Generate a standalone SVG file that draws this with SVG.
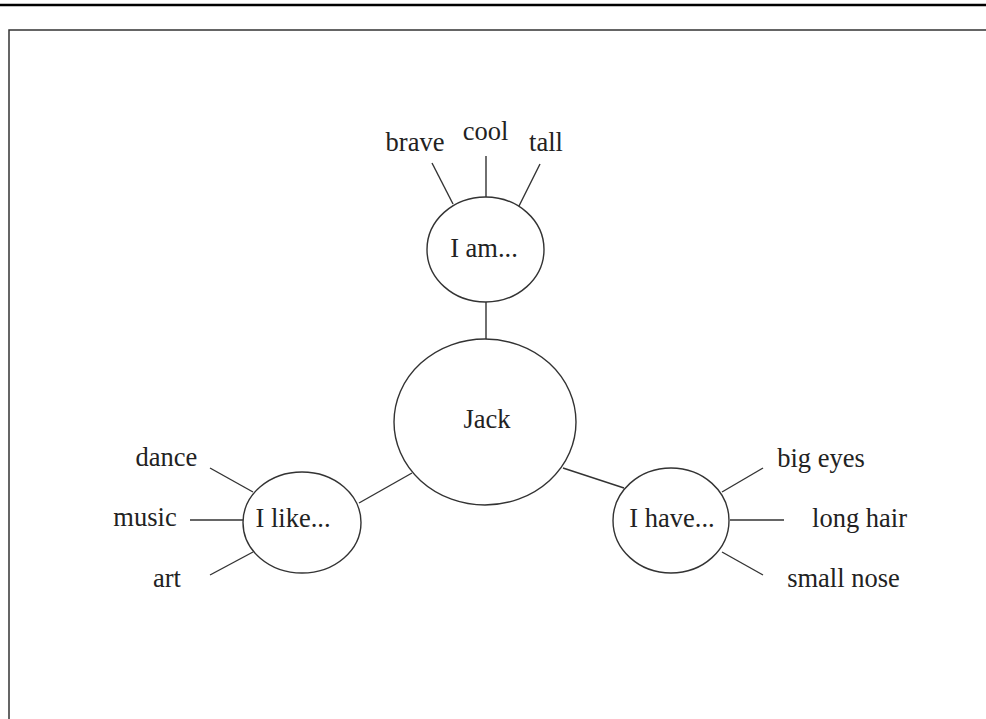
<svg xmlns="http://www.w3.org/2000/svg" width="986" height="719" viewBox="0 0 986 719">
<style>
.n{fill:#fff;stroke:#333;stroke-width:1.4}
.c line{stroke:#333;stroke-width:1.4}
text{font-family:"Liberation Serif","Times New Roman",serif;font-size:26.5px;fill:#222;text-anchor:middle}
</style>
<rect width="986" height="719" fill="#fff"/>
<line x1="0" y1="5" x2="986" y2="5" stroke="#000" stroke-width="2.5"/>
<polyline points="9,719 9,30 986,30" fill="none" stroke="#333" stroke-width="1.5"/>
<g id="connectors" class="c">
<line x1="486" y1="302" x2="486" y2="339"/>
<line x1="412" y1="473" x2="359" y2="503"/>
<line x1="563" y1="468" x2="624" y2="488"/>
<line x1="432" y1="163" x2="453" y2="204"/>
<line x1="486" y1="156" x2="486" y2="197"/>
<line x1="540" y1="164" x2="519" y2="206"/>
<line x1="210" y1="468" x2="253" y2="492"/>
<line x1="190" y1="520" x2="243" y2="520"/>
<line x1="210" y1="575" x2="253" y2="552"/>
<line x1="722" y1="492" x2="763" y2="468"/>
<line x1="730" y1="520" x2="784" y2="520"/>
<line x1="722" y1="552" x2="763" y2="575"/>
</g>
<g id="jack"><ellipse class="n" cx="485" cy="422" rx="91" ry="83"/><text x="487" y="428">Jack</text></g>
<g id="iam"><ellipse class="n" cx="485.5" cy="249.5" rx="58.5" ry="52.5"/><text x="484" y="257">I am...</text></g>
<g id="ilike"><ellipse class="n" cx="302" cy="522.5" rx="59" ry="50.5"/><text x="293" y="527">I like...</text></g>
<g id="ihave"><ellipse class="n" cx="671" cy="520.5" rx="58" ry="52.5"/><text x="672" y="527">I have...</text></g>
<g id="brave"><text x="415" y="151">brave</text></g>
<g id="cool"><text x="485.5" y="140">cool</text></g>
<g id="tall"><text x="546" y="151">tall</text></g>
<g id="dance"><text x="166.5" y="466">dance</text></g>
<g id="music"><text x="145" y="526">music</text></g>
<g id="art"><text x="167" y="587">art</text></g>
<g id="bigeyes"><text x="821" y="467">big eyes</text></g>
<g id="longhair"><text x="859.5" y="527">long hair</text></g>
<g id="smallnose"><text x="843.5" y="587">small nose</text></g>
</svg>
